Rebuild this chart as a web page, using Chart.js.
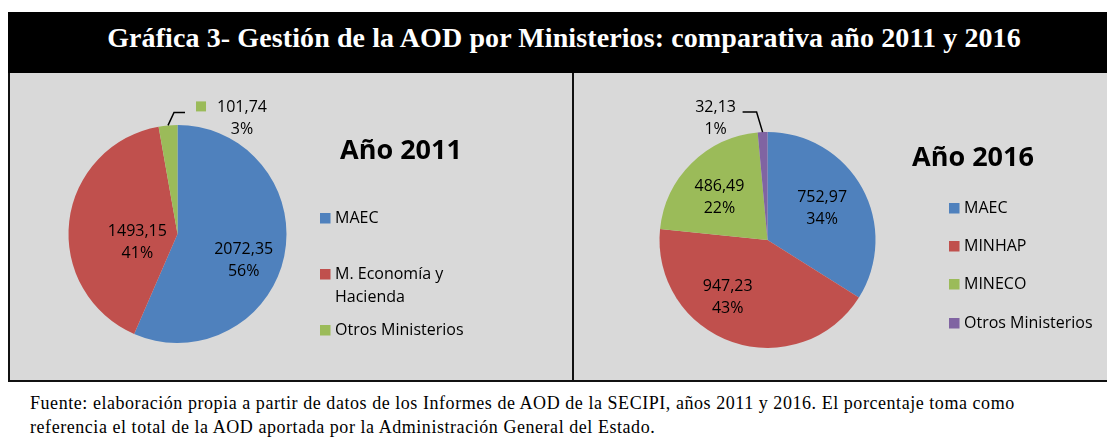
<!DOCTYPE html>
<html>
<head>
<meta charset="utf-8">
<script src="https://cdn.jsdelivr.net/npm/chart.js@4.4.0/dist/chart.umd.min.js"></script>
<style>
  body { margin: 0; background: #fff; width: 1107px; height: 443px; position: relative; overflow: hidden; }
  #frame { position: absolute; left: 8px; top: 12px; width: 1099px; height: 370px; background: #d9d9d9;
           border-left: 2px solid #111; border-bottom: 2px solid #111; box-sizing: border-box; }
  #head { position: absolute; left: 8px; top: 12px; width: 1099px; height: 61px; background: #000; }
  #title { position: absolute; left: 21px; top: 24px; width: 1086px; text-align: center; color: #fff;
           font: bold 28px "Liberation Serif", serif; line-height: 28px; white-space: nowrap; letter-spacing: 0.1px; }
  #divider { position: absolute; left: 572px; top: 73px; width: 2px; height: 309px; background: #111; }
  #c2011 { position: absolute; left: 10px; top: 74px; }
  #c2016 { position: absolute; left: 575px; top: 74px; }
  #note { position: absolute; left: 30px; top: 391px; font: 18px "Liberation Serif", serif; line-height: 24px;
          letter-spacing: 0.55px; color: #000; white-space: nowrap; }
</style>
</head>
<body>
<div id="frame"></div>
<div id="head"></div>
<div id="title">Gráfica 3- Gestión de la AOD por Ministerios: comparativa año 2011 y 2016</div>
<div id="divider"></div>
<canvas id="c2011" width="562" height="306"></canvas>
<canvas id="c2016" width="532" height="306"></canvas>
<div id="note">Fuente: elaboración propia a partir de datos de los Informes de AOD de la SECIPI, años 2011 y 2016. El porcentaje toma como<br>referencia el total de la AOD aportada por la Administración General del Estado.</div>

<script>
// data
const categories2011 = ['MAEC', 'M. Economía y Hacienda', 'Otros Ministerios'];
const values2011 = [2072.35, 1493.15, 101.74];
const percent2011 = [56, 41, 3];

const categories2016 = ['MAEC', 'MINHAP', 'MINECO', 'Otros Ministerios'];
const values2016 = [752.97, 947.23, 486.49, 32.13];
const percent2016 = [34, 43, 22, 1];

const years = ['Año 2011', 'Año 2016'];
const colors = ['#4F81BD', '#C0504D', '#9BBB59', '#8064A2'];

const LABEL_FONT = '16px "Open Sans", sans-serif';

function fmt(v) {
  return v.toFixed(2).replace('.', ',');
}

function wrap(ctx, text, maxW) {
  const words = text.split(' ');
  const lines = [];
  let cur = '';
  words.forEach(w => {
    const t = cur ? cur + ' ' + w : w;
    if (cur && ctx.measureText(t).width > maxW) { lines.push(cur); cur = w; }
    else cur = t;
  });
  if (cur) lines.push(cur);
  return lines;
}

// data labels, leader lines, legend and the year heading
const pieDecor = {
  id: 'pieDecor',
  afterDatasetsDraw(chart, args, opts) {
    const ctx = chart.ctx;
    const meta = chart.getDatasetMeta(0);
    const ds = chart.data.datasets[0];
    ctx.save();
    ctx.font = LABEL_FONT;
    ctx.fillStyle = '#000';
    ctx.textAlign = 'center';
    ctx.textBaseline = 'middle';

    meta.data.forEach((arc, i) => {
      const p = arc.getProps(['x', 'y', 'startAngle', 'endAngle', 'outerRadius'], true);
      const mid = (p.startAngle + p.endAngle) / 2;
      const lines = [fmt(ds.data[i]), opts.percent[i] + '%'];
      let lx, ly;
      const out = opts.outside[i];
      if (out) {
        const ex = p.x + Math.cos(mid) * p.outerRadius;
        const ey = p.y + Math.sin(mid) * p.outerRadius;
        const kx = ex + out.elbow[0], ky = ey + out.elbow[1];
        const hx = kx + out.arm;
        ctx.beginPath();
        ctx.moveTo(ex, ey);
        ctx.lineTo(kx, ky);
        ctx.lineTo(hx, ky);
        ctx.strokeStyle = '#000';
        ctx.lineWidth = 1.5;
        ctx.stroke();
        if (out.key) {
          ctx.fillStyle = ds.backgroundColor[i];
          ctx.fillRect(hx + 11, ky - 11, 10, 10);
          ctx.fillStyle = '#000';
        }
        lx = hx + out.text[0];
        ly = ky + out.text[1];
      } else {
        const r = p.outerRadius * 0.62;
        const n = opts.nudge[i] || [0, 0];
        lx = p.x + Math.cos(mid) * r + n[0];
        ly = p.y + Math.sin(mid) * r + n[1];
      }
      ctx.fillText(lines[0], lx, ly - 11);
      ctx.fillText(lines[1], lx, ly + 11);
    });

    // legend
    const lg = opts.legend;
    ctx.textAlign = 'left';
    chart.data.labels.forEach((lab, i) => {
      const y = lg.y[i];
      ctx.fillStyle = ds.backgroundColor[i];
      ctx.fillRect(lg.x, y - 5, 10.5, 10.5);
      ctx.fillStyle = '#000';
      wrap(ctx, lab, lg.maxWidth).forEach((t, k) => ctx.fillText(t, lg.x + 15, y + k * 23));
    });

    // heading
    ctx.font = 'bold 27px "Open Sans", sans-serif';
    ctx.textAlign = 'center';
    ctx.textBaseline = 'alphabetic';
    ctx.fillText(opts.heading, opts.headingPos[0], opts.headingPos[1]);
    ctx.restore();
  }
};

function makePie(id, labels, values, percent, heading, padding, decor) {
  return new Chart(document.getElementById(id), {
    type: 'pie',
    data: {
      labels: labels,
      datasets: [{
        data: values,
        backgroundColor: colors.slice(0, values.length),
        borderWidth: 0
      }]
    },
    options: {
      responsive: false,
      animation: false,
      layout: { padding: padding },
      plugins: {
        legend: { display: false },
        tooltip: { enabled: false },
        pieDecor: Object.assign({ percent: percent, heading: heading }, decor)
      }
    },
    plugins: [pieDecor]
  });
}

makePie('c2011', categories2011, values2011, percent2011, years[0],
  { left: 58.5, top: 51, right: 285.5, bottom: 37 },
  {
    nudge: [[0, 13], [27, 16], [0, 0]],
    outside: [null, null, { elbow: [6, -13], arm: 11, key: true, text: [57, 6.5] }],
    legend: { x: 310, y: [144, 200, 256], maxWidth: 135 },
    headingPos: [391, 85]
  });

makePie('c2016', categories2016, values2016, percent2016, years[1],
  { left: 84.5, top: 58, right: 231.5, bottom: 32 },
  {
    nudge: [[-4, 1], [-18, -6], [-1, 5], [0, 0]],
    outside: [null, null, null, { elbow: [-6, -20], arm: -14, key: false, text: [-27, 6] }],
    legend: { x: 374, y: [134, 172, 210, 249], maxWidth: 160 },
    headingPos: [398, 92]
  });
</script>
</body>
</html>
